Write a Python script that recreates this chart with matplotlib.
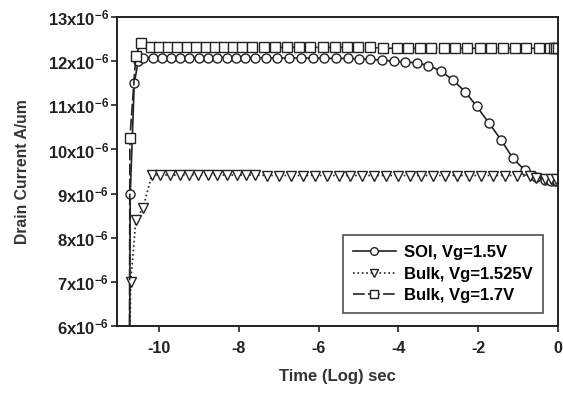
import matplotlib
matplotlib.use("Agg")
import matplotlib.pyplot as plt
from matplotlib.ticker import FixedLocator

plt.rcParams["font.family"] = ["Liberation Sans", "DejaVu Sans"]
plt.rcParams["font.weight"] = "bold"
plt.rcParams["mathtext.fontset"] = "custom"
plt.rcParams["mathtext.rm"] = "Liberation Sans:bold"
plt.rcParams["mathtext.it"] = "Liberation Sans:bold"
plt.rcParams["mathtext.bf"] = "Liberation Sans:bold"

# log10(time) and drain current in units of 1e-6 A/um
soi_x = [-10.74, -10.72, -10.62, -10.52,
         -10.4, -10.15, -9.92, -9.7, -9.47, -9.24, -9.0, -8.77, -8.54, -8.3,
         -8.07, -7.84, -7.6, -7.32, -7.03, -6.73, -6.44, -6.15, -5.86, -5.56,
         -5.27, -4.98, -4.7, -4.42, -4.12, -3.83, -3.54,
         -3.25, -2.94, -2.63, -2.33, -2.04, -1.73, -1.42, -1.13, -0.83, -0.55,
         -0.33, -0.18, -0.08, -0.03]
soi_y = [5.0, 9.0, 11.5, 12.0,
         12.07, 12.08, 12.08, 12.08, 12.08, 12.08, 12.08, 12.08, 12.08, 12.08,
         12.08, 12.08, 12.08, 12.07, 12.07, 12.07, 12.07, 12.07, 12.06, 12.06,
         12.06, 12.05, 12.04, 12.02, 12.0, 11.98, 11.96,
         11.9, 11.78, 11.57, 11.31, 10.98, 10.6, 10.21, 9.8, 9.53, 9.37,
         9.3, 9.28, 9.28, 9.28]

bulk1_x = [-10.74, -10.71, -10.58, -10.4,
           -10.18, -9.98, -9.73, -9.48, -9.25, -9.02, -8.77, -8.54, -8.29, -8.04,
           -7.82, -7.6,
           -7.3, -7.0, -6.7, -6.4, -6.1, -5.8, -5.5, -5.2, -4.9, -4.6, -4.3, -4.0,
           -3.71, -3.42, -3.13, -2.82, -2.52, -2.23, -1.93, -1.63, -1.33, -1.03,
           -0.71, -0.55, -0.33, -0.18, -0.05]
bulk1_y = [5.0, 7.0, 8.4, 8.68,
           9.42, 9.42, 9.42, 9.42, 9.42, 9.42, 9.42, 9.42, 9.42, 9.42,
           9.42, 9.42,
           9.41, 9.41, 9.41, 9.41, 9.41, 9.41, 9.41, 9.41, 9.41, 9.41, 9.41, 9.41,
           9.41, 9.41, 9.41, 9.41, 9.41, 9.41, 9.41, 9.41, 9.41, 9.41,
           9.39, 9.36, 9.34, 9.33, 9.33]

bulk2_x = [-10.74, -10.73, -10.58, -10.46,
           -10.21, -10.0, -9.77, -9.54, -9.29, -9.07, -8.83, -8.6, -8.38, -8.15,
           -7.92, -7.68,
           -7.38, -7.08, -6.79, -6.5, -6.21, -5.9, -5.6, -5.29, -5.0, -4.71,
           -4.38, -4.04, -3.75, -3.46, -3.17, -2.86, -2.57, -2.27, -1.96, -1.67,
           -1.38, -1.08, -0.79, -0.48, -0.21, -0.1, -0.04, 0.0]
bulk2_y = [5.0, 10.25, 12.12, 12.42,
           12.33, 12.33, 12.33, 12.33, 12.33, 12.33, 12.33, 12.33, 12.33, 12.33,
           12.33, 12.33,
           12.31, 12.31, 12.31, 12.31, 12.31, 12.31, 12.31, 12.31, 12.31, 12.31,
           12.29, 12.29, 12.29, 12.29, 12.29, 12.29, 12.29, 12.29, 12.29, 12.29,
           12.29, 12.29, 12.29, 12.29, 12.29, 12.29, 12.29, 12.29]

labels = ["SOI, Vg=1.5V", "Bulk, Vg=1.525V", "Bulk, Vg=1.7V"]
x_ticks = [-10, -8, -6, -4, -2, 0]
y_ticks = [6, 7, 8, 9, 10, 11, 12, 13]

fig = plt.figure(figsize=(5.63, 3.93), dpi=100)
ax = fig.add_axes([0.208, 0.170, 0.783, 0.787])

mk = dict(markersize=6.5, markerfacecolor="white", markeredgecolor="#222222",
          markeredgewidth=1.0, color="#222222")
ax.plot(soi_x, soi_y, "-", marker="o", lw=1.2, label=labels[0], **mk)
ax.plot(bulk1_x, bulk1_y, ":", marker="v", lw=1.2, label=labels[1], **mk)
ax.plot(bulk2_x, bulk2_y, marker="s", lw=1.2, linestyle=(0, (7, 2)),
        label=labels[2], **mk)

ax.set_xlim(-11.05, 0)
ax.set_ylim(6, 13)
ax.xaxis.set_major_locator(FixedLocator(x_ticks))
ax.yaxis.set_major_locator(FixedLocator(y_ticks))
ax.set_xticklabels([str(t) for t in x_ticks])
ax.set_yticklabels([f"{t}x10$^{{-6}}$" for t in y_ticks])
ax.tick_params(direction="out", length=4, width=1.2, pad=3, colors="#222222")
ax.tick_params(axis="x", labelsize=11.5, pad=7)
ax.tick_params(axis="y", labelsize=12, pad=2)
for s in ax.spines.values():
    s.set_linewidth(1.4)
    s.set_color("#222222")

ax.set_xlabel("Time (Log) sec", fontsize=12, fontweight="bold", labelpad=9,
              color="#333333")
ax.set_ylabel("Drain Current A/um", fontsize=11.3, fontweight="bold",
              color="#333333")
ax.yaxis.set_label_coords(-0.197, 0.5)

leg = ax.legend(loc="lower right", bbox_to_anchor=(0.966, 0.042), fontsize=12,
                frameon=True, fancybox=False, edgecolor="#222222",
                handlelength=2.6, borderpad=0.6, labelspacing=0.4,
                handletextpad=0.5, borderaxespad=0, markerscale=0.85)
leg.get_frame().set_linewidth(1.2)

fig.savefig("out.png", dpi=100)
